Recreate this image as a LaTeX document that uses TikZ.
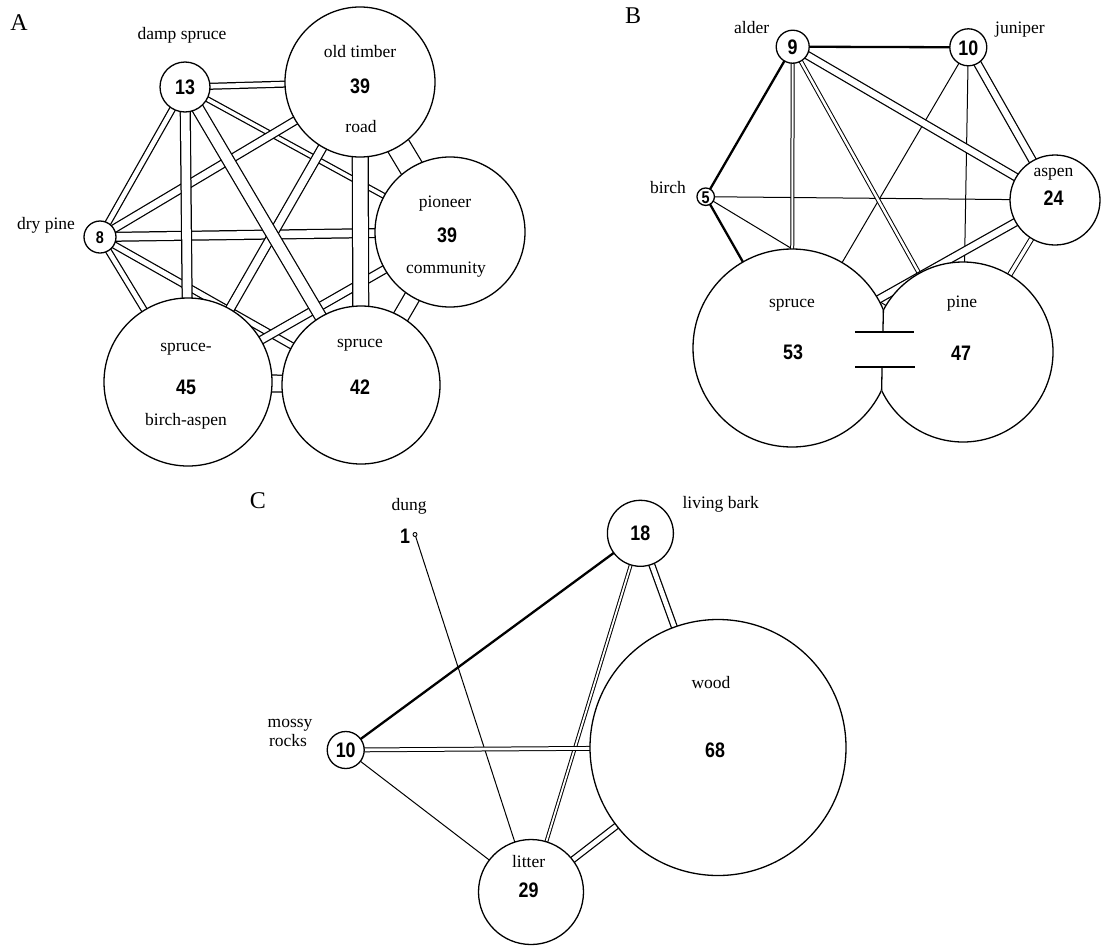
\documentclass[tikz,border=0pt]{standalone}
\usepackage{fontspec}
\setmainfont{Liberation Serif}
\newfontfamily\numfont[FakeStretch=0.85]{Liberation Sans Bold}
\usetikzlibrary{backgrounds}
\begin{document}
\begin{tikzpicture}[x=1pt,y=-1pt,
  circ/.style={circle, draw, line width=1.3pt, fill=white, inner sep=0pt, outer sep=0pt, minimum size=#1},
  bare/.style={circle, fill=white, inner sep=0pt, outer sep=0pt, minimum size=#1},
  lab/.style={font=\fontsize{17.5}{20}\selectfont, inner sep=0pt, text height=12pt, text depth=3.5pt},
  panel/.style={font=\fontsize{24}{26}\selectfont, inner sep=0pt, text height=16pt, text depth=0pt},
  num/.style={font=\numfont\fontsize{21}{22}\selectfont, inner sep=0pt, text height=15pt, text depth=0pt},
  smallnum/.style={font=\numfont\fontsize{17}{18}\selectfont, inner sep=0pt, text height=12.2pt, text depth=0pt},
  strip/.style={line width=1.25pt, double=white, double distance=#1},
  thinline/.style={line width=1pt},
  thickline/.style={line width=2.3pt},
  outline/.style={line width=1.3pt}
]
\useasboundingbox (0,0) rectangle (1102,945);

% ================= Panel A =================
\node[panel] (lA) at (19,22) {A};
\node[circ=50pt]  (a13) at (185,87) {};
\node[circ=150pt] (aOT) at (360,82) {};
\node[circ=150pt] (aP)  at (450,232) {};
\node[circ=32pt]  (a8)  at (100,237) {};
\node[circ=168pt] (aSBA) at (188,382) {};
\node[circ=158pt] (aS)  at (361,385) {};

\node[lab] (tA1) at (182,35) {damp spruce};
\node[lab] (tA2) at (46,225) {dry pine};
\node[lab] (tA3) at (360,53) {old timber};
\node[num] (tA4) at (360,86) {39};
\node[lab] (tA5) at (361,128) {road};
\node[lab] (tA6) at (445,203) {pioneer};
\node[num] (tA7) at (447,235) {39};
\node[lab] (tA8) at (446,269) {community};
\node[lab] (tA9) at (186,347) {spruce-};
\node[num] (tA10) at (186,387) {45};
\node[lab] (tA11) at (186,421) {birch-aspen};
\node[lab] (tA12) at (360,343) {spruce};
\node[num] (tA13) at (360,387) {42};
\node[num] (tA14) at (185,87) {13};
\node[smallnum] (tA15) at (100,237) {8};

\begin{scope}[on background layer]
  \draw[strip=3.6pt] (a13.center) -- (aP.center);
  \draw[strip=4.6pt] (a13.center) -- (aOT.center);
  \draw[strip=4.6pt] (a13.center) -- (a8.center);
  \draw[strip=4.6pt] (a8.center) -- (aSBA.center);
  \draw[strip=5.1pt] (a8.center) -- (aS.center);
  \draw[strip=6.6pt] (a8.center) -- (aOT.center);
  \draw[strip=6.6pt] (aP.center) -- (aSBA.center);
  \draw[strip=7.6pt] (a8.center) -- (aP.center);
  \draw[strip=7.6pt] (aOT.center) -- (aSBA.center);
  \draw[strip=8.6pt] (a13.center) -- (aSBA.center);
  \draw[strip=10.6pt] (a13.center) -- (aS.center);
  \draw[strip=14.6pt] (aOT.center) -- (aS.center);
  \draw[strip=14.6pt] (aP.center) -- (aS.center);
  \draw[strip=15.6pt] (aSBA.center) -- (aS.center);
  \draw[strip=22.6pt] (aOT.center) -- (aP.center);
\end{scope}

% ================= Panel B =================
\node[panel] (lB) at (633,15) {B};
\node[circ=33pt] (b9)  at (792.7,46.7) {};
\node[circ=37pt] (b10) at (968.3,47.3) {};
\node[circ=17.5pt] (b5) at (705.7,196.7) {};
\node[circ=90pt] (bA)  at (1055,200) {};
\node[bare=198pt] (bSp) at (792,348) {};
\node[bare=180pt] (bPi) at (963,352) {};
\begin{scope}
  \clip (600,150) -- (886,150) -- (879,520) -- (600,520) -- cycle;
  \draw[outline] (bSp.center) circle[radius=99];
\end{scope}
\begin{scope}
  \clip (886,150) -- (1100,150) -- (1100,520) -- (879,520) -- cycle;
  \draw[outline] (bPi.center) circle[radius=90];
\end{scope}
\coordinate (jt) at (883.4,310);
\coordinate (jb) at (881.6,390.2);
\coordinate (ju1) at (882.9,332);
\coordinate (ju2) at (882.1,367);
\draw[outline] (jt) -- (ju1);
\draw[outline] (ju2) -- (jb);
\draw[outline] ([xshift=-28pt]ju1) -- ([xshift=31.5pt]ju1);
\draw[outline] ([xshift=-27pt]ju2) -- ([xshift=32.5pt]ju2);

\node[lab] (tB1) at (751.7,29.3) {alder};
\node[lab] (tB2) at (1020,29) {juniper};
\node[lab] (tB3) at (668,189) {birch};
\node[lab] (tB4) at (1053.5,172) {aspen};
\node[num] (tB5) at (1053.5,198) {24};
\node[lab] (tB6) at (792,303) {spruce};
\node[num] (tB7) at (793,352) {53};
\node[lab] (tB8) at (962,303) {pine};
\node[num] (tB9) at (961,353) {47};
\node[num] (tB10) at (792.7,47) {9};
\node[num] (tB11) at (968.3,47.5) {10};
\node[smallnum] (tB12) at (705.7,197) {5};

\begin{scope}[on background layer]
  \draw[thickline] (b9.center) -- (b10.center);
  \draw[thickline] (b9.center) -- (b5.center);
  \draw[thickline] (b5.center) -- (bSp.center);
  \draw[thinline] (b5.center) -- (bA.center);
  \draw[thinline] (b5.center) -- (bPi.center);
  \draw[thinline] (b10.center) -- (bSp.center);
  \draw[thinline] (b10.center) -- (bPi.center);
  \draw[strip=2pt, line width=1pt] (b9.center) -- (bSp.center);
  \draw[strip=2.5pt, line width=1pt] (b9.center) -- (bPi.center);
  \draw[strip=3.5pt, line width=1pt] (bA.center) -- (bPi.center);
  \draw[strip=6.3pt] (b10.center) -- (bA.center);
  \draw[strip=6.3pt] (b9.center) -- (bA.center);
  \draw[strip=6.3pt] (bA.center) -- (bSp.center);
\end{scope}

% ================= Panel C =================
\node[panel] (lC) at (258,500) {C};
\node[circ=4pt, line width=0.9pt] (cD) at (415,534.5) {};
\node[circ=66pt]  (c18) at (640.4,533.3) {};
\node[circ=37pt]  (c10) at (345.7,750) {};
\node[circ=256pt] (cW)  at (718,747.5) {};
\node[circ=105pt] (cL)  at (531,892) {};

\node[lab] (tC1) at (409,506) {dung};
\node[num] (tC2) at (405,536) {1};
\node[lab] (tC3) at (720.7,504) {living bark};
\node[lab] (tC4) at (290,723) {mossy};
\node[lab] (tC5) at (288,742) {rocks};
\node[lab] (tC6) at (711,684) {wood};
\node[num] (tC7) at (715,750) {68};
\node[lab] (tC8) at (528.6,863) {litter};
\node[num] (tC9) at (528.6,890) {29};
\node[num] (tC10) at (640.4,533.3) {18};
\node[num] (tC11) at (345.7,750) {10};

\begin{scope}[on background layer]
  \draw[thickline] (c18.center) -- (c10.center);
  \draw[thinline] (cD.center) -- (cL.center);
  \draw[thinline] (c10.center) -- (cL.center);
  \draw[strip=1.8pt, line width=1pt] (c18.center) -- (cL.center);
  \draw[strip=2.8pt, line width=1pt] (c10.center) -- (cW.center);
  \draw[strip=4.6pt] (c18.center) -- (cW.center);
  \draw[strip=4.6pt] (cL.center) -- (cW.center);
\end{scope}
\end{tikzpicture}
\end{document}
